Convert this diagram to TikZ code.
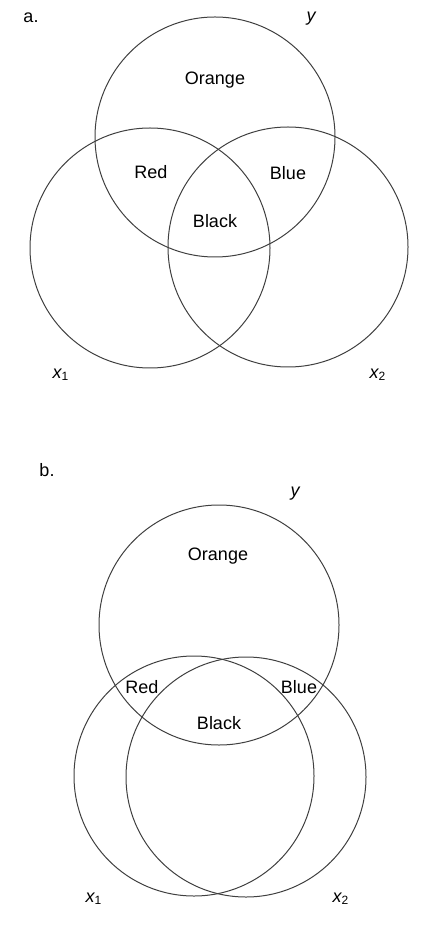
\documentclass[tikz,border=0pt]{standalone}
\usepackage{fontspec}
\setmainfont{Liberation Sans}
\begin{document}
\begin{tikzpicture}[x=0.5pt, y=-0.5pt, every node/.style={font=\fontsize{9}{10}\selectfont},
  set/.style={circle, draw=black!75, line width=0.5pt, minimum size=120pt, inner sep=0pt},
  var/.style={font=\fontsize{9}{10}\selectfont\itshape}]
  \useasboundingbox (0,0) rectangle (428,940);
  % a. three sets with equal overlaps
  \node[set] (ya) at (215,137) {};
  \node[set] (x1a) at (150,248) {};
  \node[set] (x2a) at (288,247) {};
  \node (taga) at (31,18) {a.};
  \node[var] (lya) at (311,19) {y};
  \node[var] (lx1a) at (61,375) {x\textsubscript{\upshape 1}};
  \node[var] (lx2a) at (378,375) {x\textsubscript{\upshape 2}};
  \node (orangea) at (215,80) {Orange};
  \node (reda) at (151,172) {Red};
  \node (bluea) at (288,173) {Blue};
  \node (blacka) at (215,221) {Black};
  % b. x1 and x2 nearly the same set
  \node[set] (yb) at (219,625) {};
  \node[set] (x1b) at (194,776) {};
  \node[set] (x2b) at (246,777) {};
  \node (tagb) at (47,470) {b.};
  \node[var] (lyb) at (295,494) {y};
  \node[var] (lx1b) at (94,899) {x\textsubscript{\upshape 1}};
  \node[var] (lx2b) at (341,899) {x\textsubscript{\upshape 2}};
  \node (orangeb) at (218,556) {Orange};
  \node (redb) at (142,687) {Red};
  \node (blueb) at (299,687) {Blue};
  \node (blackb) at (219,723) {Black};
\end{tikzpicture}
\end{document}
